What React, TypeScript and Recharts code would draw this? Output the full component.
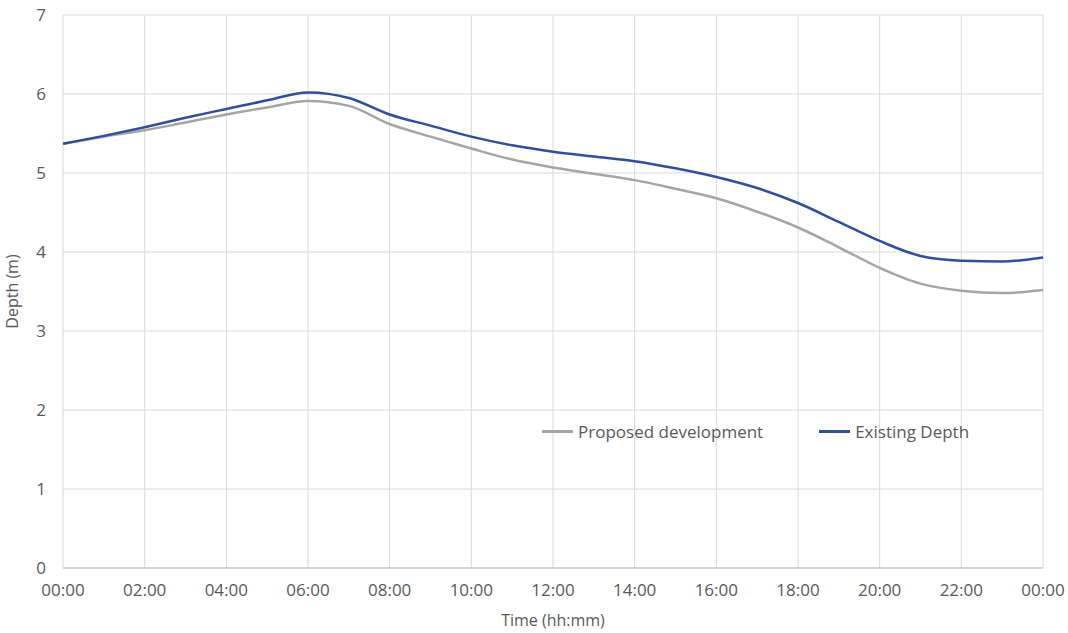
import React from 'react';
import { LineChart, Line, XAxis, YAxis, CartesianGrid, Legend } from 'recharts';

// hours from midnight
const hours = [0, 1, 2, 3, 4, 5, 6, 7, 8, 9, 10, 11, 12, 13, 14, 15, 16, 17, 18, 19, 20, 21, 22, 23, 24];
const existingDepth = [5.37, 5.47, 5.58, 5.7, 5.81, 5.92, 6.02, 5.95, 5.74, 5.6, 5.46, 5.35, 5.27, 5.21, 5.15, 5.06, 4.95, 4.81, 4.62, 4.38, 4.14, 3.95, 3.89, 3.88, 3.93];
const proposedDevelopment = [5.37, 5.46, 5.54, 5.64, 5.74, 5.83, 5.91, 5.85, 5.62, 5.46, 5.31, 5.17, 5.07, 4.99, 4.91, 4.8, 4.68, 4.51, 4.31, 4.06, 3.8, 3.6, 3.51, 3.48, 3.52];
const xTicks = [0, 2, 4, 6, 8, 10, 12, 14, 16, 18, 20, 22, 24];
const yTicks = [0, 1, 2, 3, 4, 5, 6, 7];
const legendOrder = ['proposed', 'existing'];

const data = hours.map((h, i) => ({
  t: h,
  proposed: proposedDevelopment[i],
  existing: existingDepth[i],
}));

const fmtTime = (h: number) => `${String(h % 24).padStart(2, '0')}:00`;

const FONT = '"Open Sans", sans-serif';
const TEXT = '#595959';

const renderLegend = (props: any) => {
  const items = [...(props.payload || [])].sort(
    (a: any, b: any) => legendOrder.indexOf(a.dataKey) - legendOrder.indexOf(b.dataKey)
  );
  return (
    <div style={{ display: 'flex', fontFamily: FONT, fontSize: 17, color: TEXT }}>
      {items.map((it: any, i: number) => (
        <div key={i} style={{ display: 'flex', alignItems: 'center', marginRight: i === 0 ? 56 : 0 }}>
          <div style={{ width: 31, height: 2.5, background: it.color, marginRight: 5 }} />
          <span>{it.value}</span>
        </div>
      ))}
    </div>
  );
};

export default function App() {
  return (
    <div style={{ position: 'absolute', left: 0, top: 0, width: 1068, height: 633, background: '#fff' }}>
      <LineChart width={1068} height={633} data={data} margin={{ top: 15, right: 25, left: 0, bottom: 0 }}>
        <CartesianGrid stroke="#d9d9d9" strokeWidth={1} />
        <XAxis
          dataKey="t"
          type="number"
          domain={[0, 24]}
          ticks={xTicks}
          tickFormatter={fmtTime}
          height={65}
          stroke="#bfbfbf"
          tickLine={false}
          tickSize={0}
          tickMargin={16}
          tick={{ fontSize: 17, fill: TEXT, fontFamily: FONT }}
          label={{ value: 'Time (hh:mm)', position: 'insideBottom', offset: 7, fill: TEXT, fontSize: 16, fontFamily: FONT }}
        />
        <YAxis
          type="number"
          domain={[0, 7]}
          ticks={yTicks}
          width={63}
          axisLine={false}
          tickLine={false}
          tickSize={0}
          tickMargin={17}
          tick={{ fontSize: 17, fill: TEXT, fontFamily: FONT }}
          label={{ value: 'Depth (m)', angle: -90, position: 'insideLeft', offset: 12, fill: TEXT, fontSize: 16, fontFamily: FONT, style: { textAnchor: 'middle' } }}
        />
        <Legend
          layout="horizontal"
          verticalAlign="middle"
          align="center"
          content={renderLegend}
          wrapperStyle={{ position: 'absolute', left: 542, top: 420, width: 'auto' }}
        />
        <Line
          type="monotone"
          dataKey="proposed"
          name="Proposed development"
          stroke="#a5a5a5"
          strokeWidth={2.5}
          dot={false}
          isAnimationActive={false}
        />
        <Line
          type="monotone"
          dataKey="existing"
          name="Existing Depth"
          stroke="#2f4e9b"
          strokeWidth={2.5}
          dot={false}
          isAnimationActive={false}
        />
      </LineChart>
    </div>
  );
}
